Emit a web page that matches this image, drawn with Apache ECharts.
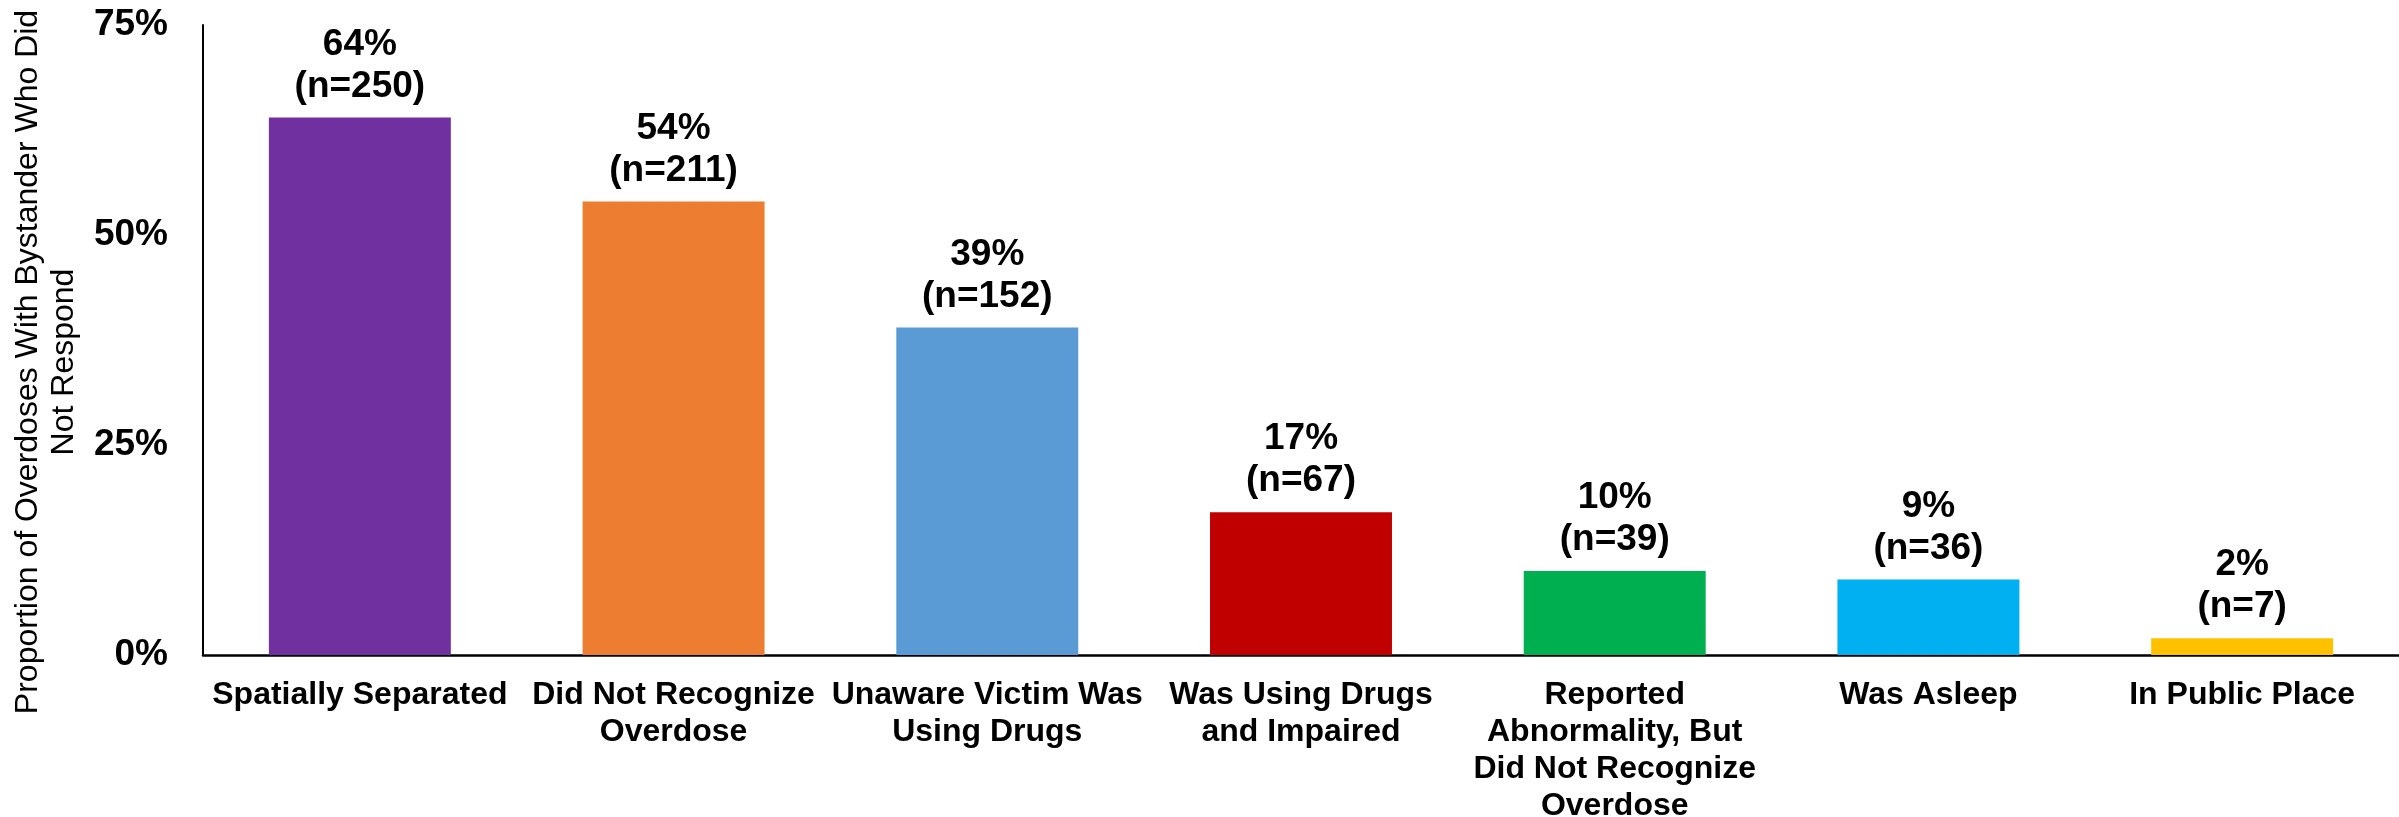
<!DOCTYPE html>
<html>
<head>
<meta charset="utf-8">
<script src="https://cdn.jsdelivr.net/npm/echarts@6/dist/echarts.min.js"></script>
<style>
  html, body { margin: 0; padding: 0; background: #ffffff; }
  #chart { width: 2399px; height: 817px; }
</style>
</head>
<body>
<div id="chart"></div>
<script>
// Reasons bystanders did not respond to an overdose
const categories = [
  'Spatially Separated',
  'Did Not Recognize\nOverdose',
  'Unaware Victim Was\nUsing Drugs',
  'Was Using Drugs\nand Impaired',
  'Reported\nAbnormality, But\nDid Not Recognize\nOverdose',
  'Was Asleep',
  'In Public Place'
];
const percents = [64, 54, 39, 17, 10, 9, 2];
const counts = [250, 211, 152, 67, 39, 36, 7];
const barColors = ['#7030A0', '#ED7D31', '#5B9BD5', '#C00000', '#00B050', '#00B0F0', '#FFC000'];
const yTicks = { min: 0, max: 75, interval: 25 };
const yTitle = 'Proportion of Overdoses With Bystander Who Did\nNot Respond';

const FONT = 'Arial, "Liberation Sans", Helvetica, sans-serif';

const chart = echarts.init(document.getElementById('chart'), null, { renderer: 'canvas' });

chart.setOption({
  backgroundColor: '#ffffff',
  animation: false,
  grid: {
    left: 203, right: 0, top: 25, bottom: 162,
    containLabel: false,
    outerBoundsMode: 'none'
  },
  xAxis: {
    type: 'category',
    data: categories,
    axisLine: { show: true, lineStyle: { color: '#000000', width: 2.5 } },
    axisTick: { show: false },
    axisLabel: {
      interval: 0,
      margin: 22,
      color: '#000000',
      fontFamily: FONT,
      fontWeight: 'bold',
      fontSize: 32,
      lineHeight: 37,
      align: 'center'
    },
    splitLine: { show: false }
  },
  yAxis: {
    type: 'value',
    min: yTicks.min,
    max: yTicks.max,
    interval: yTicks.interval,
    name: yTitle,
    nameLocation: 'middle',
    nameGap: 121,
    nameRotate: 90,
    nameMoveOverlap: false,
    nameTextStyle: {
      color: '#000000',
      fontFamily: FONT,
      fontSize: 32,
      lineHeight: 36,
      fontWeight: 'normal',
      padding: [0, 44, 0, 0]
    },
    axisLine: { show: true, lineStyle: { color: '#000000', width: 2 } },
    axisTick: { show: false },
    splitLine: { show: false },
    axisLabel: {
      margin: 35,
      color: '#000000',
      fontFamily: FONT,
      fontWeight: 'bold',
      fontSize: 37,
      formatter: '{value}%'
    }
  },
  series: [{
    type: 'bar',
    barCategoryGap: '42%',
    data: percents.map((v, i) => ({ value: v, itemStyle: { color: barColors[i] } })),
    label: {
      show: true,
      position: 'top',
      distance: 10,
      color: '#000000',
      fontFamily: FONT,
      fontWeight: 'bold',
      fontSize: 37,
      lineHeight: 42,
      align: 'center',
      formatter: p => p.value + '%\n(n=' + counts[p.dataIndex] + ')'
    }
  }]
});
</script>
</body>
</html>
